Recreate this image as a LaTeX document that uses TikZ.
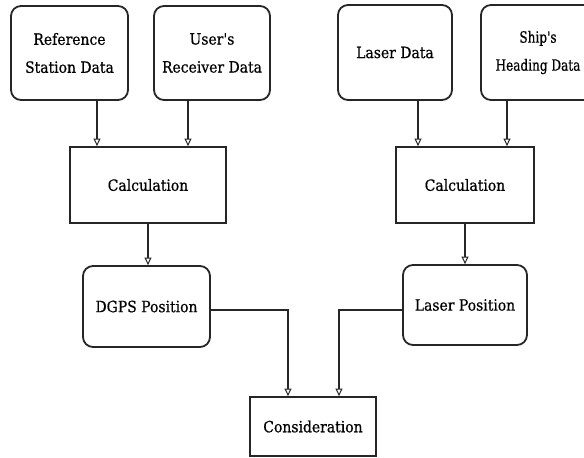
\documentclass[tikz,border=0pt]{standalone}
\usepackage{fontspec}
\setmainfont{DejaVu Serif}[FakeStretch=0.9,FakeBold=0.6,Ligatures=TeXOff]
\newfontfamily\narrowfont{DejaVu Serif}[FakeStretch=0.78,FakeBold=0.6,Ligatures=TeXOff]
\usetikzlibrary{arrows.meta}
\begin{document}
\begin{tikzpicture}[x=1pt,y=-1pt,
  box/.style={draw=black!85,line width=1.8pt,inner sep=0pt,align=center,
              font=\fontsize{15.5}{28}\selectfont},
  rbox/.style={box,rounded corners=10pt},
  arr/.style={draw=black!85,line width=1.1pt,
              -{Triangle[open,length=7.5pt,width=7pt,line width=1pt]}}]
\useasboundingbox (0,0) rectangle (584,458);
\clip (0,0) rectangle (584,458);

% input data
\node[rbox,minimum width=117pt,minimum height=94pt] (ref)   at (69.5,53)  {Reference\\Station Data};
\node[rbox,minimum width=116pt,minimum height=94pt] (user)  at (212,53)   {User's\\Receiver Data};
\node[rbox,minimum width=114pt,minimum height=95pt] (laser) at (395,52.5) {Laser Data};
\node[rbox,minimum width=114pt,minimum height=95pt,
      font=\narrowfont\fontsize{15.5}{28}\selectfont] (ship) at (538,52.5) {Ship's\\Heading Data};

% processing
\node[box,minimum width=156pt,minimum height=76pt] (calcL) at (148,185) {Calculation};
\node[box,minimum width=138pt,minimum height=76pt] (calcR) at (465,185) {Calculation};

% positions
\node[rbox,minimum width=127pt,minimum height=81pt] (dgps) at (146.5,306.5) {DGPS Position};
\node[rbox,minimum width=124pt,minimum height=80pt] (lpos) at (465,305)     {Laser Position};

% result
\node[box,minimum width=126pt,minimum height=59pt] (cons) at (313,426.5) {Consideration};

% connectors
\draw[arr] ([xshift=27.5pt]ref.south) -- ([xshift=27.5pt]ref.south |- calcL.north);
\draw[arr] ([xshift=-24pt]user.south) -- ([xshift=-24pt]user.south |- calcL.north);
\draw[arr] ([xshift=23pt]laser.south) -- ([xshift=23pt]laser.south |- calcR.north);
\draw[arr] ([xshift=-31pt]ship.south) -- ([xshift=-31pt]ship.south |- calcR.north);

\draw[arr] (calcL.south) -- (calcL.south |- dgps.north);
\draw[arr] (calcR.south) -- (calcR.south |- lpos.north);

\draw[arr] ([yshift=-3.5pt]dgps.east) -| ([xshift=-25pt]cons.north);
\draw[arr] ([yshift=-5pt]lpos.west) -| ([xshift=26pt]cons.north);
\end{tikzpicture}
\end{document}
